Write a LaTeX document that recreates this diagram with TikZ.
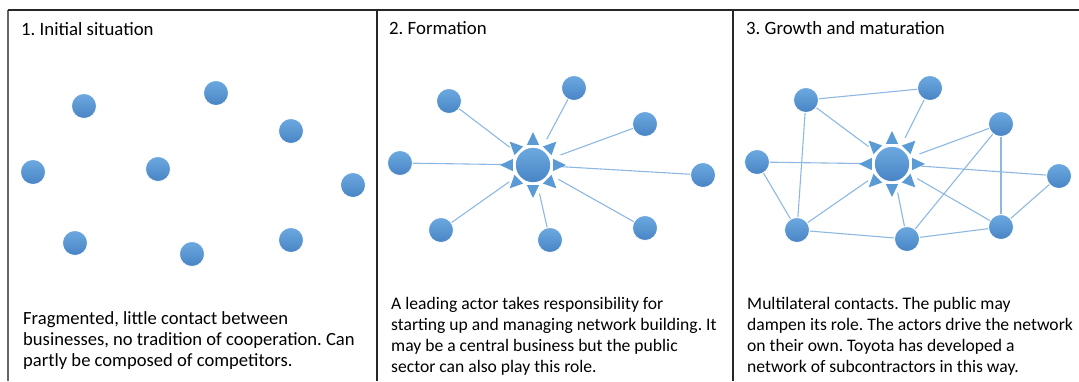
\documentclass[tikz,border=0pt]{standalone}
\usepackage{fontspec}
\setmainfont{Carlito}
\frenchspacing
\usetikzlibrary{backgrounds}
\definecolor{ballfill}{HTML}{5B9BD5}
\definecolor{balltop}{HTML}{6DA9E0}
\definecolor{ballbot}{HTML}{4884C4}
\definecolor{edgecol}{HTML}{8DB8E2}
\begin{document}
\begin{tikzpicture}[x=1pt,y=-1pt,
 actor/.style={circle, minimum size=25pt, inner sep=0, top color=balltop, bottom color=ballbot, draw=white, line width=0.8pt},
 hub/.style={circle, minimum size=58pt, inner sep=0},
 core/.style={circle, minimum size=36pt, inner sep=0, top color=balltop, bottom color=ballbot, draw=white, line width=1.4pt},
 link/.style={draw=edgecol, line width=1.1pt},
 paneltitle/.style={anchor=base west, inner sep=0, font=\fontsize{18.8}{21}\selectfont},
 desc/.style={anchor=north west, inner sep=0, align=left, font=\fontsize{17.6}{21}\selectfont},
 descwide/.style={desc, font=\fontsize{18.6}{21}\selectfont},
 frameline/.style={line width=1.6pt, draw=black!85}]
\useasboundingbox (0,0) rectangle (1079,381);
% frames
\draw[line width=1.2pt, draw=black!60] (8,381) -- (8,10);
\draw[frameline] (8,10) -- (1079,10);
\draw[frameline] (377,10) -- (377,381);
\draw[frameline] (733,10) -- (733,381);
% titles
\node[paneltitle] (t1) at (21,35) {1. Initial situation};
\node[paneltitle] (t2) at (389,34) {2. Formation};
\node[paneltitle] (t3) at (746,34) {3. Growth and maturation};
% descriptions
\node[descwide] (d1) at (23,311.5) {Fragmented, little contact between\\businesses, no tradition of cooperation. Can\\partly be composed of competitors.};
\node[desc] (d2) at (391,297.5) {A leading actor takes responsibility for\\starting up and managing network building. It\\may be a central business but the public\\sector can also play this role.};
\node[desc] (d3) at (747,297.5) {Multilateral contacts. The public may\\dampen its role. The actors drive the network\\on their own. Toyota has developed a\\network of subcontractors in this way.};
% panel 1
\node[actor] (a1) at (84,106) {};
\node[actor] (a2) at (216,93) {};
\node[actor] (a3) at (291,131) {};
\node[actor] (a4) at (33,172) {};
\node[actor] (a5) at (158,169) {};
\node[actor] (a6) at (353,185) {};
\node[actor] (a7) at (75,243) {};
\node[actor] (a8) at (192,254) {};
\node[actor] (a9) at (291,240) {};
% panel 2
\node[hub] (c2) at (533,165) {};
\foreach \a in {0,45,...,315}
  \fill[ballfill, shift={(c2.center)}] (\a:33) -- (\a+17:21) -- (\a-17:21) -- cycle;
\node[core] (k2) at (c2.center) {};
\node[actor] (b1) at (449,101) {};
\node[actor] (b2) at (574,88) {};
\node[actor] (b3) at (645,124) {};
\node[actor] (b4) at (400,163) {};
\node[actor] (b5) at (703,175) {};
\node[actor] (b6) at (441,230) {};
\node[actor] (b7) at (550,240) {};
\node[actor] (b8) at (645,228) {};
% panel 3
\node[hub] (c3) at (892,164) {};
\foreach \a in {0,45,...,315}
  \fill[ballfill, shift={(c3.center)}] (\a:33) -- (\a+17:21) -- (\a-17:21) -- cycle;
\node[core] (k3) at (c3.center) {};
\node[actor] (e1) at (806,100) {};
\node[actor] (e2) at (930,88) {};
\node[actor] (e3) at (1001,124) {};
\node[actor] (e4) at (757,162) {};
\node[actor] (e5) at (1059,176) {};
\node[actor] (e6) at (797,230) {};
\node[actor] (e7) at (907,239) {};
\node[actor] (e8) at (1001,227) {};
\begin{pgfonlayer}{background}
\foreach \n in {b1,b2,b3,b4,b5,b6,b7,b8}
  \draw[link] (\n) -- (c2);
\foreach \n in {e1,e2,e3,e4,e5,e6,e7,e8}
  \draw[link] (\n) -- (c3);
\draw[link] (e1) -- (e2);
\draw[link] (e1) -- (e6);
\draw[link] (e4) -- (e6);
\draw[link] (e6) -- (e7);
\draw[link] (e3) -- (e7);
\draw[link] (e3) -- (e8);
\draw[link] (e7) -- (e8);
\draw[link] (e5) -- (e8);
\end{pgfonlayer}
\end{tikzpicture}
\end{document}
